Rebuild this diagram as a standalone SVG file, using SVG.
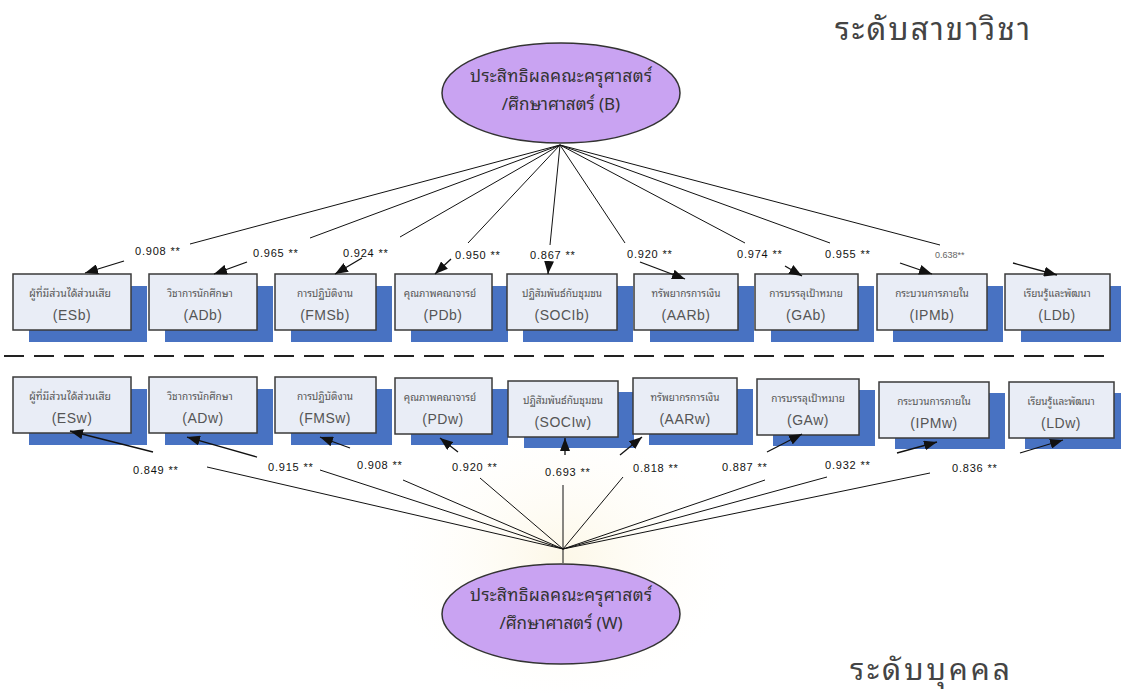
<svg xmlns="http://www.w3.org/2000/svg" width="1121" height="693" viewBox="0 0 1121 693">
<style>
.bg{fill:#ffffff}
.shadow{fill:#4872c2}
.box{fill:#e9edf6;stroke:#3a3a3a;stroke-width:1.5}
.th{font-family:"Noto Sans Thai Looped","Loma","Garuda","Tahoma","Noto Sans Thai","Liberation Sans",sans-serif;font-size:10px;fill:#555;text-anchor:middle}
.code{font-family:"Liberation Sans",Arial,sans-serif;font-size:14px;fill:#555;text-anchor:middle;letter-spacing:0.5px}
.ell{fill:#c9a3f2;stroke:#333;stroke-width:1.5}
.et{font-family:"Noto Sans Thai Looped","Loma","Garuda","Tahoma","Noto Sans Thai","Liberation Sans",sans-serif;font-size:17px;fill:#333;text-anchor:middle}
.lbl{font-family:"Liberation Sans",Arial,sans-serif;font-size:11px;fill:#111;letter-spacing:0.8px}
.lbl2{font-family:"Liberation Sans",Arial,sans-serif;font-size:9px;fill:#666}
.title{font-family:"Noto Sans Thai Looped","Loma","Garuda","Tahoma","Noto Sans Thai","Liberation Sans",sans-serif;font-size:31px;fill:#444}
.ln{fill:none;stroke:#111;stroke-width:1}
.ar{fill:none;stroke:#111;stroke-width:1.3;marker-end:url(#ah)}
</style>
<defs>
<marker id="ah" markerUnits="userSpaceOnUse" markerWidth="13" markerHeight="10" refX="13" refY="5" orient="auto">
<path d="M0,0 L13,5 L0,10 z" fill="#111"/>
</marker>
<radialGradient id="wm" cx="0.5" cy="0.5" r="0.5">
<stop offset="0" stop-color="#f7e6b0" stop-opacity="0.3"/>
<stop offset="1" stop-color="#fff8e6" stop-opacity="0"/>
</radialGradient>
</defs>
<rect class="bg" x="0" y="0" width="1121" height="693"/>
<ellipse cx="563" cy="560" rx="170" ry="140" fill="url(#wm)"/>

<text class="title" x="835" y="40" textLength="195" lengthAdjust="spacing">ระดับสาขาวิชา</text>
<text class="title" x="850" y="680" textLength="160" lengthAdjust="spacing" style="font-size:30px">ระดับบุคคล</text>

<line x1="4" y1="356" x2="1110" y2="356" stroke="#222" stroke-width="2" stroke-dasharray="20,10"/>

<g id="B">
<ellipse class="ell" cx="561" cy="93" rx="119" ry="50"/>
<text class="et" x="561" y="82" textLength="182" lengthAdjust="spacing">ประสิทธิผลคณะครุศาสตร์</text>
<text class="et" x="561" y="110">/ศึกษาศาสตร์ (B)</text>
</g>
<g id="W">
<ellipse class="ell" cx="561" cy="614" rx="119" ry="50"/>
<text class="et" x="561" y="601" textLength="182" lengthAdjust="spacing">ประสิทธิผลคณะครุศาสตร์</text>
<text class="et" x="561" y="629">/ศึกษาศาสตร์ (W)</text>
</g>

<g id="ESb"><rect class="shadow" x="29" y="286" width="118" height="56"/><rect class="box" x="13" y="274" width="118" height="56"/><text class="th" x="70" y="297" style="font-size:10.5px">ผู้ที่มีส่วนได้ส่วนเสีย</text><text class="code" x="72" y="320">(ESb)</text></g>
<g id="ADb"><rect class="shadow" x="165" y="286" width="108" height="56"/><rect class="box" x="149" y="274" width="108" height="56"/><text class="th" x="200" y="297">วิชาการนักศึกษา</text><text class="code" x="203" y="320">(ADb)</text></g>
<g id="FMSb"><rect class="shadow" x="291" y="286" width="101" height="56"/><rect class="box" x="275" y="274" width="101" height="56"/><text class="th" x="325" y="297">การปฏิบัติงาน</text><text class="code" x="325" y="320">(FMSb)</text></g>
<g id="PDb"><rect class="shadow" x="411" y="286" width="97" height="56"/><rect class="box" x="395" y="274" width="97" height="56"/><text class="th" x="440" y="297">คุณภาพคณาจารย์</text><text class="code" x="443" y="320">(PDb)</text></g>
<g id="SOCIb"><rect class="shadow" x="523" y="286" width="110" height="56"/><rect class="box" x="507" y="274" width="110" height="56"/><text class="th" x="562" y="297">ปฏิสัมพันธ์กับชุมชน</text><text class="code" x="562" y="320">(SOCIb)</text></g>
<g id="AARb"><rect class="shadow" x="650" y="286" width="104" height="56"/><rect class="box" x="634" y="274" width="104" height="56"/><text class="th" x="686" y="297">ทรัพยากรการเงิน</text><text class="code" x="686" y="320">(AARb)</text></g>
<g id="GAb"><rect class="shadow" x="771" y="286" width="103" height="56"/><rect class="box" x="755" y="274" width="103" height="56"/><text class="th" x="806" y="297">การบรรลุเป้าหมาย</text><text class="code" x="806" y="320">(GAb)</text></g>
<g id="IPMb"><rect class="shadow" x="893" y="286" width="110" height="56"/><rect class="box" x="877" y="274" width="110" height="56"/><text class="th" x="932" y="297">กระบวนการภายใน</text><text class="code" x="932" y="320">(IPMb)</text></g>
<g id="LDb"><rect class="shadow" x="1021" y="286" width="105" height="56"/><rect class="box" x="1005" y="274" width="105" height="56"/><text class="th" x="1057" y="297">เรียนรู้และพัฒนา</text><text class="code" x="1057" y="320">(LDb)</text></g>

<g id="ESw"><rect class="shadow" x="29" y="389" width="118" height="56"/><rect class="box" x="13" y="377" width="118" height="56"/><text class="th" x="70" y="400" style="font-size:10.5px">ผู้ที่มีส่วนได้ส่วนเสีย</text><text class="code" x="72" y="423">(ESw)</text></g>
<g id="ADw"><rect class="shadow" x="165" y="389" width="108" height="56"/><rect class="box" x="149" y="377" width="108" height="56"/><text class="th" x="200" y="400">วิชาการนักศึกษา</text><text class="code" x="203" y="423">(ADw)</text></g>
<g id="FMSw"><rect class="shadow" x="291" y="389" width="101" height="56"/><rect class="box" x="275" y="377" width="101" height="56"/><text class="th" x="325" y="400">การปฏิบัติงาน</text><text class="code" x="325" y="423">(FMSw)</text></g>
<g id="PDw"><rect class="shadow" x="411" y="389" width="97" height="56"/><rect class="box" x="395" y="378" width="97" height="56"/><text class="th" x="440" y="401">คุณภาพคณาจารย์</text><text class="code" x="443" y="424">(PDw)</text></g>
<g id="SOCIw"><rect class="shadow" x="524" y="392" width="110" height="56"/><rect class="box" x="508" y="381" width="110" height="56"/><text class="th" x="563" y="404">ปฏิสัมพันธ์กับชุมชน</text><text class="code" x="563" y="427">(SOCIw)</text></g>
<g id="AARw"><rect class="shadow" x="649" y="389" width="104" height="56"/><rect class="box" x="633" y="378" width="104" height="56"/><text class="th" x="685" y="401">ทรัพยากรการเงิน</text><text class="code" x="685" y="424">(AARw)</text></g>
<g id="GAw"><rect class="shadow" x="773" y="390" width="102" height="56"/><rect class="box" x="757" y="379" width="102" height="56"/><text class="th" x="808" y="402">การบรรลุเป้าหมาย</text><text class="code" x="808" y="425">(GAw)</text></g>
<g id="IPMw"><rect class="shadow" x="895" y="393" width="110" height="56"/><rect class="box" x="879" y="382" width="110" height="56"/><text class="th" x="934" y="405">กระบวนการภายใน</text><text class="code" x="934" y="428">(IPMw)</text></g>
<g id="LDw"><rect class="shadow" x="1025" y="393" width="105" height="56"/><rect class="box" x="1009" y="382" width="105" height="56"/><text class="th" x="1061" y="405">เรียนรู้และพัฒนา</text><text class="code" x="1061" y="428">(LDw)</text></g>

<g id="connectors">
<path class="ln" d="M560,145 L190,244"/><path class="ar" d="M124,261 L85,273"/>
<path class="ln" d="M560,145 L310,238"/><path class="ar" d="M247,262 L214,274"/>
<path class="ln" d="M560,145 L400,237"/><path class="ar" d="M362,258 L335,274"/>
<path class="ln" d="M560,145 L468,243"/><path class="ar" d="M451,259 L435,274"/>
<path class="ln" d="M560,145 L550,245"/><path class="ar" d="M549,262 L548,274"/>
<path class="ln" d="M560,145 L625,243"/><path class="ar" d="M640,262 L685,279"/>
<path class="ln" d="M560,145 L745,243"/><path class="ar" d="M785,266 L802,276"/>
<path class="ln" d="M560,145 L830,243"/><path class="ar" d="M900,263 L932,274"/>
<path class="ln" d="M560,145 L940,245"/><path class="ar" d="M1013,263 L1057,275"/>

<path class="ln" d="M563,563 L563,549 L207,467"/><path class="ar" d="M153,452 L70,431"/>
<path class="ln" d="M563,549 L320,470"/><path class="ar" d="M257,457 L187,437"/>
<path class="ln" d="M563,549 L403,480"/><path class="ar" d="M350,448 L320,437"/>
<path class="ln" d="M563,549 L480,478"/><path class="ar" d="M458,452 L440,438"/>
<path class="ln" d="M563,549 L563,485"/><path class="ar" d="M565,455 L565,438"/>
<path class="ln" d="M563,549 L623,477"/><path class="ar" d="M620,455 L642,437"/>
<path class="ln" d="M563,549 L765,480"/><path class="ar" d="M767,452 L802,434"/>
<path class="ln" d="M563,549 L827,477"/><path class="ar" d="M897,453 L937,442"/>
<path class="ln" d="M563,549 L930,473"/><path class="ar" d="M1020,453 L1063,440"/>

<text class="lbl" x="135" y="255">0.908 **</text>
<text class="lbl" x="253" y="257">0.965 **</text>
<text class="lbl" x="343" y="257">0.924 **</text>
<text class="lbl" x="455" y="259">0.950 **</text>
<text class="lbl" x="530" y="259">0.867 **</text>
<text class="lbl" x="627" y="258">0.920 **</text>
<text class="lbl" x="737" y="258">0.974 **</text>
<text class="lbl" x="825" y="258">0.955 **</text>
<text class="lbl2" x="935" y="258">0.638**</text>

<text class="lbl" x="133" y="474">0.849 **</text>
<text class="lbl" x="268" y="471">0.915 **</text>
<text class="lbl" x="357" y="469">0.908 **</text>
<text class="lbl" x="452" y="471">0.920 **</text>
<text class="lbl" x="545" y="476">0.693 **</text>
<text class="lbl" x="633" y="472">0.818 **</text>
<text class="lbl" x="722" y="471">0.887 **</text>
<text class="lbl" x="825" y="469">0.932 **</text>
<text class="lbl" x="952" y="472">0.836 **</text>
</g>
</svg>
